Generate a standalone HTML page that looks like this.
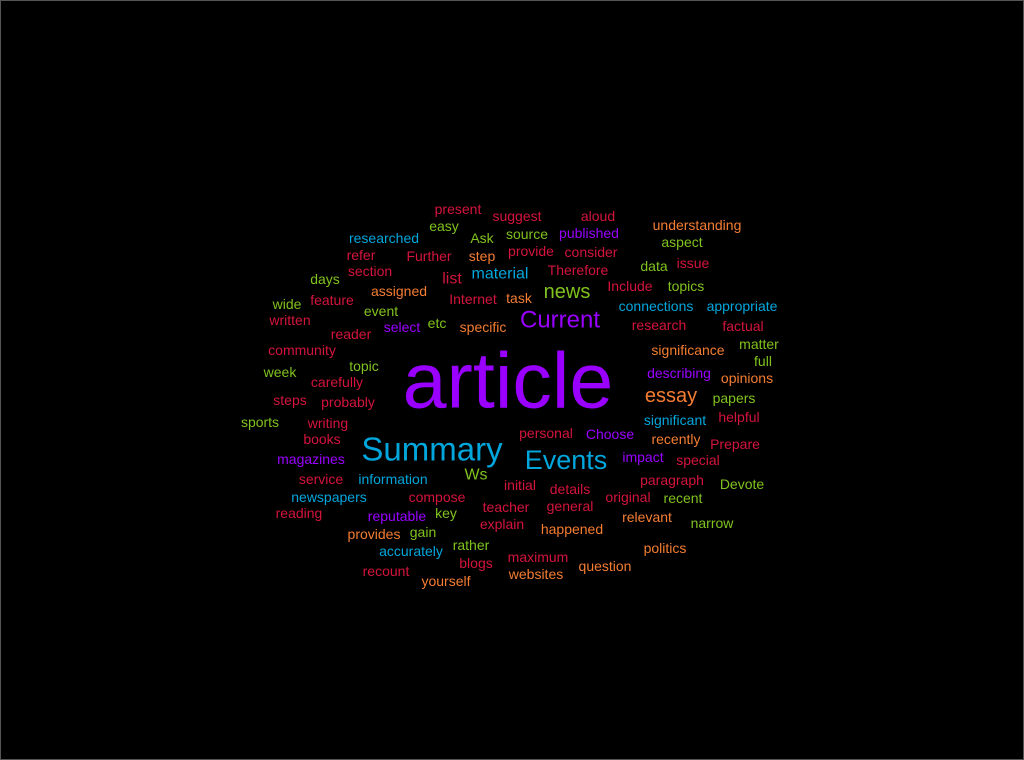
<!DOCTYPE html>
<html><head><meta charset="utf-8"><style>
html,body{margin:0;padding:0;background:#000;}
svg{display:block;}
text{font-family:"Liberation Sans",Arial,sans-serif;}
</style></head><body>
<svg width="1024" height="760" viewBox="0 0 1024 760">
<rect x="0.5" y="0.5" width="1023" height="759" fill="#000" stroke="#555"/>
<g id="words"></g>
</svg>
<script>
const words = ["present","suggest","aloud","understanding","easy","researched","Ask","source","published","aspect","refer","Further","step","provide","consider","data","issue","section","list","material","Therefore","days","Include","topics","assigned","news","wide","feature","Internet","task","connections","appropriate","event","written","select","etc","specific","Current","research","factual","reader","community","significance","matter","topic","full","week","carefully","describing","opinions","article","essay","steps","probably","papers","sports","writing","significant","helpful","books","Summary","personal","Choose","recently","Prepare","Events","magazines","impact","special","Ws","service","information","initial","paragraph","details","Devote","newspapers","compose","original","recent","teacher","general","reading","reputable","key","explain","relevant","narrow","happened","provides","gain","rather","politics","accurately","maximum","blogs","question","recount","websites","yourself"];
const xs = [458,517,598,697,444,384,482,527,589,682,361,429,482,531,591,654,693,370,452,500,578,325,630,686,399,567,287,332,473,519,656,742,381,290,402,437,483,560,659,743,351,302,688,759,364,763,280,337,679,747,508,671,290,348,734,260,328,675,739,322,432,546,610,676,735,566,311,643,698,476,321,393,520,672,570,742,329,437,628,683,506,570,299,397,446,502,647,712,572,374,423,471,665,411,538,476,605,386,536,446];
const ys = [209,216,216,225,226,238,238,234,233,242,255,256,256,251,252,266,263,271,279,274,270,279,286,286,291,292,304,300,299,298,306,306,311,320,327,323,327,320,325,326,334,350,350,344,366,361,372,382,373,378,380,396,400,402,398,422,423,420,417,439,449,433,434,439,444,460,459,457,460,475,479,479,485,480,489,484,497,497,497,498,507,506,513,516,513,524,517,523,529,534,532,545,548,551,557,563,566,571,574,581];
const sizes = [14,14,14,14,14,14,14,14,14,14,14,14,14,14,14,14,14,14,16,16,14,14,14,14,14,20,14,14,14,14,14,14,14,14,14,14,14,24,14,14,14,14,14,14,14,14,14,14,14,14,79,20,14,14,14,14,14,14,14,14,33,14,14,14,14,27,14,14,14,16,14,14,14,14,14,14,14,14,14,14,14,14,14,14,14,14,14,14,14,14,14,14,14,14,14,14,14,14,14,14];
const colorKeys = ["r","r","r","o","g","b","g","g","p","g",
"r","r","o","r","r","g","r","r","r","b",
"r","g","r","g","o","g","g","r","r","o",
"b","b","g","r","p","g","o","p","r","r",
"r","r","o","g","g","g","g","r","p","o",
"p","o","r","r","g","g","r","b","r","r",
"b","r","p","o","r","b","p","p","r","g",
"r","b","r","r","r","g","b","r","r","g",
"r","r","r","p","g","r","o","g","o","o",
"g","g","o","b","r","r","o","r","o","o"];
const palette = {r:"#d4143c", o:"#f47d32", g:"#80c21e", b:"#00a6dc", p:"#9900ff"};
const g = document.getElementById('words');
for (let i = 0; i < words.length; i++) {
  const t = document.createElementNS('http://www.w3.org/2000/svg','text');
  t.setAttribute('x', xs[i]);
  t.setAttribute('y', ys[i]);
  t.setAttribute('text-anchor','middle');
  t.setAttribute('dominant-baseline','central');
  t.setAttribute('font-size', sizes[i]);
  t.setAttribute('fill', palette[colorKeys[i]] || "#d4143c");
  t.textContent = words[i];
  
  
  g.appendChild(t);
}
</script>
</body></html>
